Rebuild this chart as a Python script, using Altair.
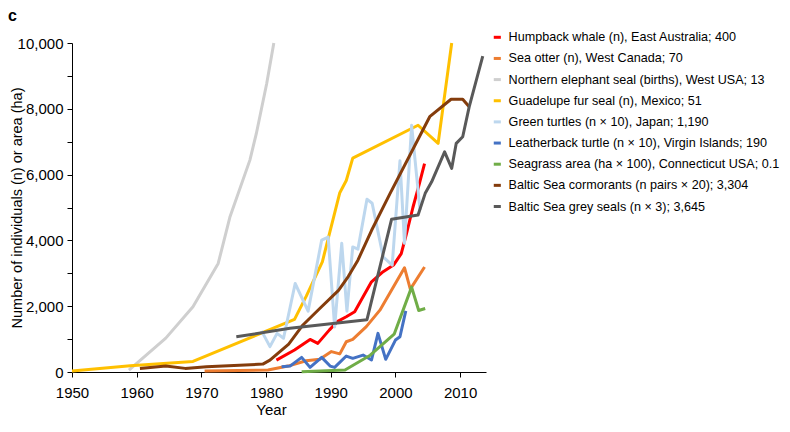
import altair as alt
import pandas as pd

# ---- series names (legend order) and colours ----
names = [
    "Humpback whale (n), East Australia; 400",
    "Sea otter (n), West Canada; 70",
    "Northern elephant seal (births), West USA; 13",
    "Guadelupe fur seal (n), Mexico; 51",
    "Green turtles (n × 10), Japan; 1,190",
    "Leatherback turtle (n × 10), Virgin Islands; 190",
    "Seagrass area (ha × 100), Connecticut USA; 0.1",
    "Baltic Sea cormorants (n pairs × 20); 3,304",
    "Baltic Sea grey seals (n × 3); 3,645",
]
colors = ["#ff0000", "#ed7d31", "#cfcfcf", "#ffc000", "#bdd7ee",
          "#4472c4", "#70ad47", "#843c0c", "#595959"]

# ---- values ----
hump_year = [1981.6, 1984.4, 1986.8, 1988.0, 1989.8, 1991.0, 1992.4, 1993.7, 1995.0,
             1996.3, 1998.1, 1999.7, 2000.9, 2001.7, 2002.7, 2003.6, 2004.5]
hump_n = [360, 670, 990, 870, 1280, 1530, 1680, 1830, 2290,
          2740, 3050, 3250, 3600, 4200, 5000, 5650, 6330]

otter_year = [1970.5, 1980.3, 1983.4, 1986.2, 1988.3, 1990.1, 1991.4, 1992.4, 1993.4,
              1995.5, 1997.6, 2001.4, 2002.3, 2004.5]
otter_n = [30, 60, 180, 340, 390, 620, 550, 920, 990,
           1380, 1880, 3170, 2520, 3190]

eseal_year = [1958.8, 1964.5, 1968.7, 1972.6, 1974.4, 1977.5, 1978.5, 1980.1, 1981.2]
eseal_n = [60, 1030, 1980, 3300, 4700, 6440, 7250, 8770, 10000]

fur_year = [1950.0, 1959.0, 1968.7, 1984.4, 1986.2, 1988.7, 1991.4, 1992.4, 1993.4,
            2003.5, 2006.6, 2008.7]
fur_n = [30, 190, 320, 1600, 2300, 3350, 5450, 5820, 6500,
         7500, 6950, 10000]

gt_year = [1979.3, 1980.6, 1981.7, 1982.7, 1984.5, 1986.5, 1988.6, 1989.6, 1990.6,
           1991.7, 1992.5, 1993.4, 1994.2, 1995.6, 1996.4, 1998.1, 1999.5, 2000.7,
           2001.4, 2002.5, 2003.8]
gt_n = [1250, 770, 1175, 1025, 2690, 1850, 4010, 4100, 1370,
        3910, 1850, 3800, 3735, 5250, 5130, 3500, 3250, 6420,
        3910, 7500, 4920]

lb_year = [1982.4, 1983.7, 1985.5, 1986.8, 1988.6, 1989.9, 1990.6, 1992.4, 1993.4,
           1995.0, 1996.3, 1997.3, 1998.5, 2000.0, 2000.7, 2001.6]
lb_n = [160, 180, 445, 140, 445, 180, 140, 485, 415,
        515, 365, 1175, 385, 970, 1070, 1860]

sg_year = [1985.5, 1992.2, 1996.1, 1999.8, 2002.5, 2003.6, 2004.6]
sg_n = [10, 60, 510, 1150, 2580, 1870, 1930]

cor_year = [1960.5, 1964.5, 1967.5, 1970.8, 1979.5, 1980.6, 1983.5, 1985.7, 1988.3,
            1991.2, 1992.7, 1994.2, 1996.3, 1999.1, 2005.3, 2008.6, 2010.4, 2011.4]
cor_n = [110, 180, 110, 160, 240, 360, 850, 1430, 1930,
         2480, 2900, 3400, 4300, 5400, 7760, 8290, 8290, 8060]

gs_year = [1975.4, 1983.7, 1995.6, 1999.4, 2003.5, 2004.6, 2005.6, 2007.6, 2008.7,
           2009.4, 2010.4, 2011.4, 2013.5]
gs_n = [1070, 1330, 1590, 4640, 4770, 5430, 5780, 6690, 6190,
        6950, 7150, 8060, 9600]

x_ticks = [1950, 1960, 1970, 1980, 1990, 2000, 2010]
y_ticks = [0, 1000, 2000, 3000, 4000, 5000, 6000, 7000, 8000, 9000, 10000]

all_series = [
    (hump_year, hump_n), (otter_year, otter_n), (eseal_year, eseal_n),
    (fur_year, fur_n), (gt_year, gt_n), (lb_year, lb_n),
    (sg_year, sg_n), (cor_year, cor_n), (gs_year, gs_n),
]

rows = []
for name, (yrs, vals) in zip(names, all_series):
    for i, (yr, v) in enumerate(zip(yrs, vals)):
        rows.append({"series": name, "year": yr, "value": v, "idx": i})
df = pd.DataFrame(rows)

FONT = "Liberation Sans"

color_scale = alt.Scale(domain=names, range=colors)

base = alt.Chart(df).mark_line(strokeWidth=3, strokeJoin="round").encode(
    x=alt.X("year:Q",
            scale=alt.Scale(domain=[1950, 2014], nice=False, zero=False),
            axis=alt.Axis(values=x_ticks, format="d", title="Year",
                          labelPadding=8, labelFlush=False, titleX=199, titleY=30,
                          titleBaseline="top")),
    y=alt.Y("value:Q",
            scale=alt.Scale(domain=[0, 10000], nice=False),
            axis=alt.Axis(values=y_ticks,
                          labelExpr="datum.value % 2000 === 0 ? format(datum.value, ',') : ''",
                          title="Number of individuals (n) or area (ha)",
                          labelPadding=4, labelFlush=False, titleX=-48,
                          titleFontSize=14.5, titleBaseline="bottom")),
    color=alt.Color("series:N", scale=color_scale,
                    legend=alt.Legend(orient="none", legendX=419, legendY=-12,
                                      title=None, symbolType="stroke",
                                      symbolStrokeWidth=3, symbolSize=50,
                                      labelFontSize=12.6, labelLimit=400,
                                      rowPadding=8.15, labelOffset=5, padding=0,
                                      labelColor="black", labelFont=FONT)),
    order="idx:Q",
)

layers = [base.transform_filter(alt.datum.series == n) for n in names]

panel = alt.Chart(pd.DataFrame({"label": ["c"]})).mark_text(
    font=FONT, fontSize=16, fontWeight="bold", align="left",
    baseline="alphabetic", color="black"
).encode(text="label:N", x=alt.value(-64), y=alt.value(-22))

chart = alt.layer(*layers, panel).properties(
    width=414, height=329,
    autosize=alt.AutoSizeParams(type="none"),
    padding={"left": 64, "top": 35, "right": 296, "bottom": 46},
).configure_view(stroke=None).configure_axis(
    grid=False, domainColor="black", tickColor="black", domainWidth=1,
    tickWidth=1, tickSize=5, labelFont=FONT, labelFontSize=15,
    labelColor="black", titleFont=FONT, titleFontSize=15,
    titleFontWeight="normal", titleColor="black",
).configure_legend(labelFont=FONT)

chart.save("out.html", embed_options={"renderer": "svg", "actions": False})
